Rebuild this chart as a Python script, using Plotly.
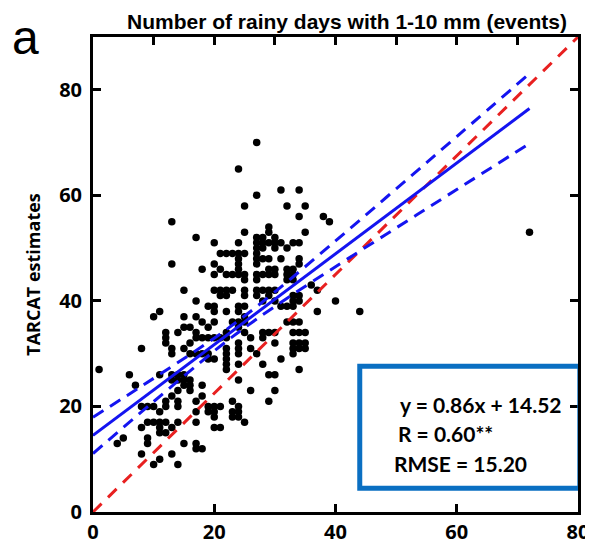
import plotly.graph_objects as go

# ---- data ----
obs_x = [27,24,13,17,20,24,25,27,31,34,32,35,34,38,39,29,29,25,35,72,
         27,27,27,27,27,27,28,28,29,30,30,31,33,34,32,30,28,
         21,23,24,25,24,24,20,13,22,
         28,29,31,34,34,
         18,21,24,29,30,32,33,
         20,22,23,24,25,27,28,29,30,32,33,
         25,27,32,33,36,
         15,20,21,22,23,25,27,28,29,30,37,
         21,22,25,27,29,33,34,
         17,28,30,33,34,40,
         19,20,25,31,32,33,24,
         11,20,22,24,37,44,
         10,15,17,25,
         18,23,24,25,32,33,34,20,
         15,16,19,24,
         12,14,17,22,25,28,29,30,33,34,35,
         12,17,18,19,20,21,22,26,28,
         12,16,24,30,33,34,35,
         8,13,15,22,24,26,33,34,35,
         13,16,17,18,19,22,24,27,33,
         19,20,22,31,
         22,24,28,
         1,22,34,
         6,11,13,14,15,29,30,
         13,14,15,16,24,
         7,15,16,18,
         14,16,26,30,
         13,18,
         12,14,17,23,29,
         8,9,10,12,14,19,20,21,24,
         11,17,19,20,23,24,
         20,23,24,
         9,10,11,12,14,17,25,
         8,11,13,20,21,
         11,12,
         5,9,
         4,9,15,17,
         17,18,
         8,13,
         11,
         10,14]
obs_y = [70,65,55,52,51,51,58,60,61,61,58,58,56,56,55,54,53,53,53,53,
         52,51,50,49,48,47,52,51,51,52,51,51,51,51,50,50,50,
         49,49,49,49,48,47,47,47,49,
         48,48,48,48,47,
         46,46,46,46,46,46,46,
         45,45,45,45,45,45,45,45,45,45,45,
         44,44,44,44,43,
         42,42,42,42,42,42,42,42,42,42,42,
         41,41,41,41,41,41,41,
         40,40,40,40,40,40,
         39,39,39,39,39,39,39,
         38,38,38,38,38,38,
         37,37,37,37,
         36,36,36,36,36,36,36,36,
         35,35,35,35,
         34,34,34,34,34,34,34,34,34,34,34,
         33,33,33,33,33,33,33,33,33,
         32,32,32,32,32,32,32,
         31,31,31,31,31,31,31,31,31,
         30,30,30,30,30,30,30,30,30,
         29,29,29,29,
         28,28,28,
         27,27,27,
         26,26,26,26,26,26,26,
         25,25,25,25,25,
         24,24,24,24,
         23,23,23,23,
         22,22,
         21,21,21,21,21,
         20,20,20,20,20,20,20,20,20,
         19,19,19,19,19,19,
         18,18,18,
         17,17,17,17,17,17,17,
         16,16,16,16,16,
         15,15,
         14,14,
         13,13,13,13,
         12,12,
         11,11,
         10,
         9,9]

# fitted line and its confidence band, read at these x positions
fit_x = [0, 10, 20, 24, 30, 40, 50, 60, 72]
fit_y = [14.52, 23.12, 31.72, 35.16, 40.32, 48.92, 57.52, 66.12, 76.44]
band_upper = [17.96, 25.32, 32.94, 36.26, 41.69, 51.36, 61.22, 71.14, 83.06]
band_lower = [11.08, 20.92, 30.50, 34.06, 38.95, 46.48, 53.82, 61.10, 69.82]

# diagonal reference line
ref_x = [0, 80]
ref_y = [0, 90]

x_ticks = [0, 20, 40, 60, 80]
x_minor_ticks = [0, 10, 20, 30, 40, 50, 60, 70, 80]
y_ticks = [0, 20, 40, 60, 80]

title_text = "Number of rainy days with 1-10 mm (events)"
y_title = "TARCAT estimates"
stats_lines = ["y = 0.86x + 14.52", "R = 0.60**", "RMSE = 15.20"]

BLUE = "#1414F0"
RED = "#E82020"
BOX = "#0A6FC2"

fig = go.Figure()
fig.add_trace(go.Scatter(x=obs_x, y=obs_y, mode="markers",
                         marker=dict(color="black", size=7.5, line=dict(width=0)),
                         showlegend=False, hoverinfo="skip"))
fig.add_trace(go.Scatter(x=ref_x, y=ref_y, mode="lines",
                         line=dict(color=RED, width=3, dash="12px,9px"),
                         showlegend=False))
fig.add_trace(go.Scatter(x=fit_x, y=band_upper, mode="lines",
                         line=dict(color=BLUE, width=3, dash="12px,8px", shape="spline"),
                         showlegend=False))
fig.add_trace(go.Scatter(x=fit_x, y=band_lower, mode="lines",
                         line=dict(color=BLUE, width=3, dash="12px,8px", shape="spline"),
                         showlegend=False))
fig.add_trace(go.Scatter(x=fit_x, y=fit_y, mode="lines",
                         line=dict(color=BLUE, width=3),
                         showlegend=False))
# invisible trace for top axis ticks
fig.add_trace(go.Scatter(x=[0, 80], y=[0, 0], xaxis="x2", mode="markers",
                         marker=dict(opacity=0), showlegend=False, hoverinfo="skip"))

tick_font = dict(family="Open Sans", size=20, color="black", weight="bold")

# page body has an 8px margin, so the figure is 8px smaller and margins are offset
fig.update_layout(
    width=585, height=541,
    margin=dict(l=85, r=15, t=29, b=37, autoexpand=False),
    paper_bgcolor="white", plot_bgcolor="white",
    xaxis=dict(range=[0, 80], tickvals=x_ticks, ticks="inside", ticklen=8,
               tickwidth=2.5, tickcolor="black", showline=True, linewidth=3,
               linecolor="black", mirror=True, showgrid=False, zeroline=False,
               tickfont=tick_font, fixedrange=True, automargin=False),
    xaxis2=dict(range=[0, 80], overlaying="x", side="top", tickvals=x_minor_ticks,
                ticks="inside", ticklen=8, tickwidth=2.5, tickcolor="black",
                showticklabels=False, showline=False, showgrid=False, zeroline=False,
                automargin=False),
    yaxis=dict(range=[0, 90], tickvals=y_ticks, ticks="inside", ticklen=8,
               tickwidth=2.5, tickcolor="black", showline=True, linewidth=3,
               linecolor="black", mirror="ticks", showgrid=False, zeroline=False,
               tickfont=tick_font, ticklabelstandoff=4, automargin=False,
               title=dict(text=y_title, font=dict(family="Open Sans", size=18,
                                                  color="black", weight="bold"),
                          standoff=14)),
)

fig.add_annotation(text=title_text, xref="paper", yref="paper",
                   x=0.5, y=1, yanchor="bottom", xshift=11, yshift=2, showarrow=False,
                   font=dict(family="Liberation Sans", size=21, color="black", weight="bold"))
fig.add_annotation(text="a", xref="paper", yref="paper", x=-0.14, y=1.0,
                   xanchor="center", yanchor="middle", showarrow=False,
                   font=dict(family="Liberation Sans", size=48, color="black"))

fig.add_shape(type="rect", xref="x", yref="y", x0=44.0, x1=80.3, y0=4.5, y1=27.6,
              line=dict(color=BOX, width=5), fillcolor="rgba(0,0,0,0)", layer="above")

stat_pos = [(50.3, 20.4), (50.0, 14.9), (49.3, 9.1)]
for txt, (sx, sy) in zip(stats_lines, stat_pos):
    fig.add_annotation(text=txt, x=sx, y=sy, xref="x", yref="y", xanchor="left",
                       yanchor="middle", showarrow=False,
                       font=dict(family="Lato", size=21, color="black", weight="bold"))

fig.write_html("out.html")
